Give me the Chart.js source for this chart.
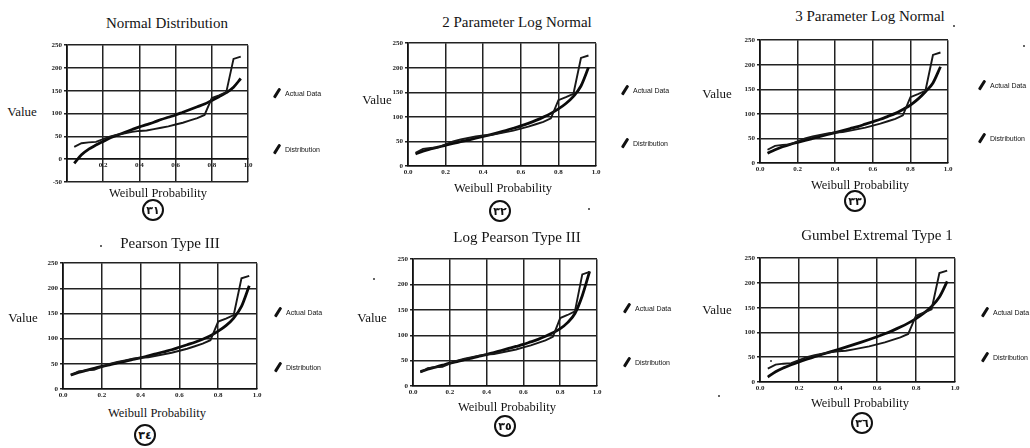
<!DOCTYPE html>
<html>
<head>
<meta charset="utf-8">
<script src="https://cdn.jsdelivr.net/npm/chart.js@4.4.1/dist/chart.umd.min.js"></script>
<style>
  html, body { margin: 0; padding: 0; background: #fff; }
  #sheet { position: relative; width: 1030px; height: 448px; overflow: hidden; background: #fff; }
  canvas { position: absolute; }
  .lbl { position: absolute; transform: translate(-50%, -50%); white-space: nowrap; color: #141414; font-family: "Liberation Serif", "DejaVu Serif", serif; }
  .title { font-size: 15px; }
  .yname { font-size: 13px; }
  .xname { font-size: 12.5px; }
  .key { position: absolute; transform: translateY(-50%); white-space: nowrap; font-family: "Liberation Sans", Arial, sans-serif; font-size: 7px; color: #111; opacity: 0.99; will-change: transform; }
  .stroke { position: absolute; width: 2.8px; height: 11px; background: #111; transform: translate(-50%, -50%) rotate(32deg); border-radius: 1px; }
  .badge { position: absolute; width: 18px; height: 18px; border: 2px solid #111; border-radius: 50%; transform: translate(-50%, -50%); display: flex; align-items: center; justify-content: center; font-family: "DejaVu Sans", sans-serif; font-size: 11px; font-weight: bold; color: #111; line-height: 1; }
  .speck { position: absolute; width: 2px; height: 2px; background: #333; border-radius: 50%; }
</style>
</head>
<body>
<div id="sheet"></div>
<script>
// Weibull plotting positions of the 24 ranked observations, i / (n + 1)
const weibullProbability = [0.04, 0.08, 0.12, 0.16, 0.20, 0.24, 0.28, 0.32, 0.36, 0.40, 0.44, 0.48,
                            0.52, 0.56, 0.60, 0.64, 0.68, 0.72, 0.76, 0.80, 0.84, 0.88, 0.92, 0.96];

// Ranked observed values
const actualData = [27, 35, 37, 38, 44, 50, 54, 57, 60, 62, 63, 66,
                    69, 72, 76, 80, 85, 90, 97, 134, 140, 147, 220, 225];

// Fitted quantiles at the same probabilities
const normalFit = [-9, 10, 22, 31, 39, 47, 53, 59, 65, 71, 76, 81,
                   87, 92, 97, 103, 109, 115, 121, 129, 137, 146, 158, 177];
const logNormal2Fit = [24.5, 30.2, 34.6, 38.6, 42.3, 45.9, 49.4, 52.9, 56.5, 60.2, 64.0, 68.0,
                       72.2, 76.8, 81.6, 86.9, 92.8, 99.5, 107.1, 116.2, 127.3, 141.9, 162.9, 200.5];
const logNormal3Fit = [20, 27, 33, 38, 42, 46, 50, 54, 58, 62, 66, 70,
                       74, 79, 84, 89, 95, 101, 109, 118, 130, 145, 163, 196];
const pearson3Fit = [28, 33, 37, 41, 45, 48, 52, 55, 59, 62, 66, 70,
                     74, 78, 83, 88, 93, 99, 106, 115, 126, 141, 164, 205];
const logPearson3Fit = [28, 33, 37, 41, 45, 48, 52, 55, 59, 62, 66, 70,
                        74, 78, 82, 87, 92, 98, 105, 113, 125, 143, 178, 226];
const gumbelFit = [10.0, 20.7, 28.5, 34.9, 40.7, 46.0, 51.0, 56.0, 60.8, 65.5, 70.4, 75.4,
                   80.5, 85.8, 91.4, 97.3, 103.8, 110.9, 118.9, 128.0, 138.9, 152.6, 171.5, 203.1];

const panelTitles = ["Normal Distribution", "2 Parameter Log Normal", "3 Parameter Log Normal",
                     "Pearson Type III", "Log Pearson Type III", "Gumbel Extremal Type 1"];
const panelFits = [normalFit, logNormal2Fit, logNormal3Fit, pearson3Fit, logPearson3Fit, gumbelFit];
const panelNumbers = ["٣١", "٣٢", "٣٣", "٣٤", "٣٥", "٣٦"];
const valueMins = [-50, 0, 0, 0, 0, 0];
const valueMax = 250;
const valueStep = 50;
const probabilityStep = 0.2;
const seriesNames = ["Actual Data", "Distribution"];
const yAxisName = "Value";
const xAxisName = "Weibull Probability";

// Page layout of each panel: plot box and label anchors
const layout = [
  { plot: [67, 45, 248, 182], title: [167, 23], yname: [22, 112], xname: [158, 193], badge: [153, 210], key: [277, 93, 149], hideZero: true },
  { plot: [408, 43, 596, 166], title: [517, 22], yname: [377, 100], xname: [503, 188], badge: [500, 211], key: [625, 90, 143] },
  { plot: [760, 40, 948, 163], title: [870, 16], yname: [717, 94], xname: [860, 185], badge: [855, 201], key: [982, 85, 138] },
  { plot: [63, 263, 257, 389], title: [170, 243], yname: [23, 318], xname: [157, 413], badge: [145, 435], key: [278, 312, 367] },
  { plot: [413, 259, 597, 386], title: [517, 237], yname: [372, 318], xname: [507, 407], badge: [505, 426], key: [627, 308, 362] },
  { plot: [760, 258, 955, 382], title: [877, 235], yname: [717, 310], xname: [860, 403], badge: [862, 423], key: [985, 312, 357] }
];

const sheet = document.getElementById('sheet');

function addText(cls, text, x, y) {
  const d = document.createElement('div');
  d.className = cls;
  d.textContent = text;
  d.style.left = x + 'px';
  d.style.top = y + 'px';
  sheet.appendChild(d);
  return d;
}

function addKey(x, y, text) {
  const s = document.createElement('div');
  s.className = 'stroke';
  s.style.left = x + 'px';
  s.style.top = y + 'px';
  sheet.appendChild(s);
  const t = document.createElement('div');
  t.className = 'key';
  t.textContent = text;
  t.style.left = (x + 8) + 'px';
  t.style.top = y + 'px';
  sheet.appendChild(t);
}

const AXIS_W = 26, PAD_T = 6, PAD_R = 10, PAD_B = 16;
const tickFont = { family: "'Liberation Serif', serif", size: 7, weight: 'bold' };

layout.forEach((L, k) => {
  const [x0, y0, x1, y1] = L.plot;
  const canvas = document.createElement('canvas');
  const w = (x1 - x0) + AXIS_W + PAD_R;
  const h = (y1 - y0) + PAD_T + PAD_B;
  canvas.width = w; canvas.height = h;
  canvas.style.width = w + 'px'; canvas.style.height = h + 'px';
  canvas.style.left = (x0 - AXIS_W) + 'px';
  canvas.style.top = (y0 - PAD_T) + 'px';
  sheet.appendChild(canvas);

  const fit = panelFits[k];
  new Chart(canvas, {
    type: 'line',
    data: {
      datasets: [
        {
          label: seriesNames[0],
          data: weibullProbability.map((p, i) => ({ x: p, y: actualData[i] })),
          borderColor: '#181818', borderWidth: 1.9, pointRadius: 0, tension: 0
        },
        {
          label: seriesNames[1],
          data: weibullProbability.map((p, i) => ({ x: p, y: fit[i] })),
          borderColor: '#0b0b0b', borderWidth: 2.8, pointRadius: 0, cubicInterpolationMode: 'monotone'
        }
      ]
    },
    options: {
      responsive: false,
      animation: false,
      devicePixelRatio: 1,
      layout: { padding: { left: 0, top: PAD_T, right: PAD_R, bottom: PAD_B } },
      plugins: { legend: { display: false }, tooltip: { enabled: false } },
      scales: {
        x: {
          type: 'linear', min: 0, max: 1,
          position: { y: 0 },
          ticks: {
            stepSize: probabilityStep, font: tickFont, color: '#222', padding: 2, maxRotation: 0,
            callback: v => (L.hideZero && v === 0) ? '' : v.toFixed(1)
          },
          grid: { color: '#222', lineWidth: 1.5, drawTicks: false },
          border: { color: '#111', width: 1.6 }
        },
        y: {
          min: valueMins[k], max: valueMax,
          position: 'left',
          afterFit: s => { s.width = AXIS_W; },
          ticks: { stepSize: valueStep, font: tickFont, color: '#222', padding: 2 },
          grid: { color: '#222', lineWidth: 1.5, tickLength: 3 },
          border: { color: '#111', width: 1.7 }
        }
      }
    }
  });

  addText('lbl title', panelTitles[k], L.title[0], L.title[1]);
  addText('lbl yname', yAxisName, L.yname[0], L.yname[1]);
  addText('lbl xname', xAxisName, L.xname[0], L.xname[1]);
  const b = document.createElement('div');
  b.className = 'badge';
  b.textContent = panelNumbers[k];
  b.style.left = L.badge[0] + 'px';
  b.style.top = L.badge[1] + 'px';
  sheet.appendChild(b);
  addKey(L.key[0], L.key[1], seriesNames[0]);
  addKey(L.key[0], L.key[2], seriesNames[1]);
});

// stray specks on the sheet
[[100, 245], [953, 25], [1023, 45], [373, 278], [770, 360], [588, 208], [718, 395]].forEach(([x, y]) => {
  const d = document.createElement('div');
  d.className = 'speck';
  d.style.left = x + 'px';
  d.style.top = y + 'px';
  sheet.appendChild(d);
});
</script>
</body>
</html>
